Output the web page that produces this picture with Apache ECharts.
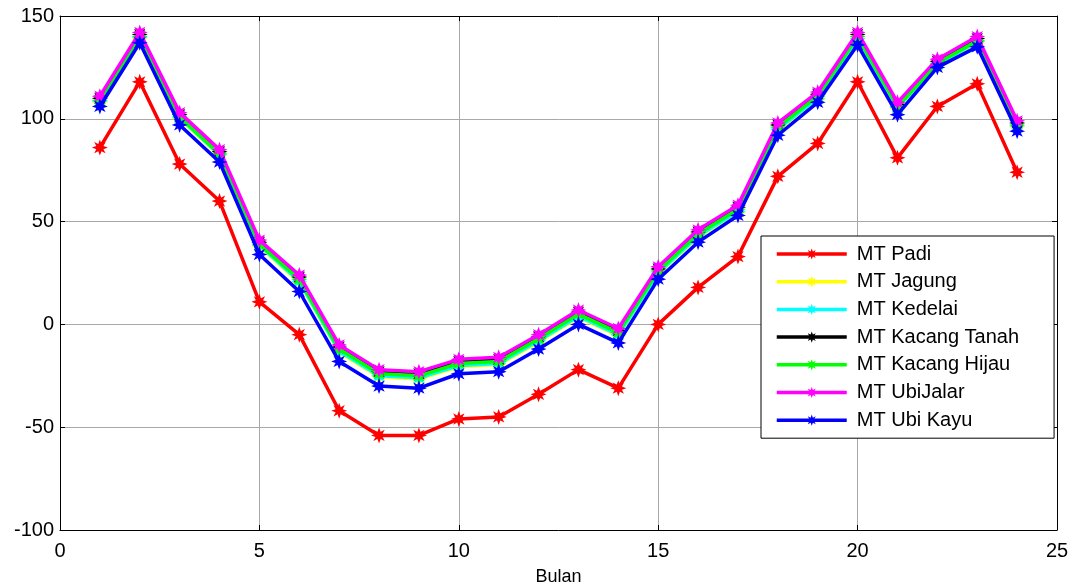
<!DOCTYPE html>
<html><head><meta charset="utf-8">
<script src="https://cdn.jsdelivr.net/npm/echarts@6/dist/echarts.min.js"></script>
<style>html,body{margin:0;padding:0;background:#fff}#c{width:1074px;height:586px}</style>
</head><body><div id="c"></div>
<script>
const months = [1,2,3,4,5,6,7,8,9,10,11,12,13,14,15,16,17,18,19,20,21,22,23,24];
const padi = [86,118,78,60,11,-5,-42,-54,-54,-46,-45,-34,-22,-31,0,18,33,72,88,118,81,106,117,74];
const jagung = [108,139,100,82,38,20.5,-13.5,-25.5,-26.5,-20.5,-19.5,-8.5,3.5,-5.5,24.5,42.5,54.5,94.5,109.5,138.5,105,126,137,96];
const kedelai = [108.5,139.5,100.5,82.5,38.5,21,-13,-25,-26,-20,-19,-8,4,-5,25,43,55,95,110,139,105.5,126.5,137.5,96.5];
const kacangTanah = [110,141,102,84,40,23,-11,-23,-24,-18,-17,-6,6,-3,27,45,57,97,112,141,107,128,139,98];
const kacangHijau = [109,140,101,83,39,22,-12,-24,-25,-19,-18,-7,5,-4,26,44,56,96,111,140,106,127,138,97];
const ubiJalar = [111,142,103,85,41,24,-10,-22,-23,-17,-16,-5,7,-2,28,46,58,98,113,142,108,129,140,99];
const ubiKayu = [106,137,97,79,34,16,-18,-30,-31,-24,-23,-12,0,-9,22,40,53,92,108,136,102,125,135,94];
const seriesNames = ['MT Padi','MT Jagung','MT Kedelai','MT Kacang Tanah','MT Kacang Hijau','MT UbiJalar','MT Ubi Kayu'];
const seriesData = [padi,jagung,kedelai,kacangTanah,kacangHijau,ubiJalar,ubiKayu];
const colors = ['#ff0000','#ffff00','#00ffff','#000000','#00ff00','#ff00ff','#0000ff'];
const xTicks = [0,5,10,15,20,25];
const yTicks = [-100,-50,0,50,100,150];

const star = 'path://M20 10 L14.5 12 L17.07 17.07 L12 14.5 L10 20 L8 14.5 L2.93 17.07 L5.5 12 L0 10 L5.5 8 L2.93 2.93 L8 5.5 L10 0 L12 5.5 L17.07 2.93 L14.5 8 Z';
const font = 'Liberation Sans';
const chart = echarts.init(document.getElementById('c'), null, {renderer:'canvas'});
const axisCommon = {
  axisLine:{show:true,onZero:false,lineStyle:{color:'#000',width:1}},
  axisTick:{show:true,inside:true,length:5,lineStyle:{color:'#000'}},
};
chart.setOption({
  animation:false,
  backgroundColor:'#fff',
  grid:{left:60,right:17,top:16,bottom:56,containLabel:false,outerBoundsMode:'none'},
  legend:{
    orient:'vertical', left:761, top:236,
    data:seriesNames,
    itemWidth:70, itemHeight:14, itemGap:7.7,
    padding:[8,35,8,14],
    borderColor:'#000', borderWidth:1, backgroundColor:'#fff',
    lineStyle:{width:3.5},
    itemStyle:{borderWidth:0},
    textStyle:{fontFamily:font,fontSize:20,color:'#000',padding:[0,0,0,5]},
    z:10
  },
  xAxis:[
    Object.assign({type:'value',min:xTicks[0],max:xTicks[xTicks.length-1],interval:5,position:'bottom',
      name:'Bulan',nameLocation:'middle',nameGap:38,nameTextStyle:{fontFamily:font,fontSize:18,color:'#000'},
      axisLabel:{fontFamily:font,fontSize:20,color:'#000',margin:11},
      splitLine:{show:true,lineStyle:{color:'#a8a8a8',width:1}}},axisCommon),
    Object.assign({type:'value',min:0,max:25,interval:5,position:'top',axisLabel:{show:false},splitLine:{show:false}},axisCommon)
  ],
  yAxis:[
    Object.assign({type:'value',min:yTicks[0],max:yTicks[yTicks.length-1],interval:50,position:'left',
      axisLabel:{fontFamily:font,fontSize:20,color:'#000',margin:6},
      splitLine:{show:true,lineStyle:{color:'#a8a8a8',width:1}}},axisCommon),
    Object.assign({type:'value',min:-100,max:150,interval:50,position:'right',axisLabel:{show:false},splitLine:{show:false}},axisCommon)
  ],
  series: seriesNames.map((n,i)=>({
    name:n, type:'line', xAxisIndex:0, yAxisIndex:0,
    data: months.map((m,j)=>[m,seriesData[i][j]]),
    symbol:star, symbolSize:16, showSymbol:true,
    lineStyle:{color:colors[i],width:3.5},
    itemStyle:{color:colors[i]},
    z:2+i
  }))
});
</script></body></html>
